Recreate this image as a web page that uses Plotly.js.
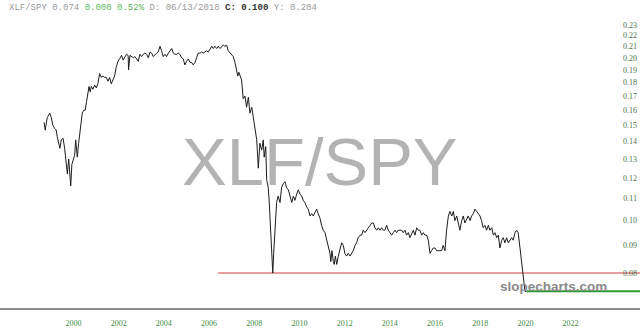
<!DOCTYPE html>
<html><head><meta charset="utf-8">
<script src="https://cdn.plot.ly/plotly-3.0.1.min.js"></script>
<style>html,body{margin:0;padding:0;background:#fff;}#chart{width:640px;height:332px;}</style>
</head><body><div id="chart"></div>
<script>
// Decimal-year dates and XLF/SPY ratio values
const dates = [1998.70,1998.75,1998.84,1998.95,1999.02,1999.09,1999.17,1999.24,1999.28,1999.35,1999.40,1999.46,1999.54,1999.61,1999.67,1999.73,1999.79,1999.83,1999.88,1999.93,1999.99,
2000.05,2000.10,2000.17,2000.23,2000.29,2000.35,2000.39,2000.46,2000.52,2000.58,2000.64,2000.69,2000.74,2000.79,2000.86,2000.94,
2001.01,2001.08,2001.16,2001.23,2001.31,2001.38,2001.45,2001.53,2001.60,2001.67,2001.75,2001.82,2001.89,2001.97,
2002.04,2002.13,2002.20,2002.28,2002.35,2002.42,2002.44,2002.50,2002.58,2002.65,2002.72,2002.80,2002.87,2002.94,
2003.02,2003.09,2003.16,2003.24,2003.31,2003.39,2003.46,2003.53,2003.61,2003.68,2003.75,2003.83,2003.90,2003.97,
2004.05,2004.12,2004.20,2004.27,2004.35,2004.42,2004.49,2004.57,2004.64,2004.71,2004.79,2004.86,2004.93,
2005.01,2005.08,2005.16,2005.23,2005.30,2005.38,2005.45,2005.52,2005.60,2005.67,2005.74,2005.82,2005.89,2005.97,
2006.04,2006.12,2006.19,2006.26,2006.34,2006.41,2006.48,2006.56,2006.63,2006.70,2006.78,2006.85,2006.93,
2007.07,2007.15,2007.22,2007.27,2007.32,2007.37,2007.44,2007.51,2007.59,2007.66,2007.74,2007.81,2007.89,2007.96,
2008.03,2008.11,2008.18,2008.25,2008.33,2008.40,2008.44,2008.51,2008.55,2008.62,2008.66,2008.70,2008.73,2008.75,2008.78,2008.82,2008.86,2008.90,2008.95,2008.99,
2009.06,2009.14,2009.21,2009.28,2009.36,2009.43,2009.51,2009.58,2009.66,2009.73,2009.80,2009.88,2009.95,
2010.02,2010.10,2010.17,2010.24,2010.32,2010.39,2010.47,2010.54,2010.61,2010.69,2010.76,2010.83,2010.91,2010.98,
2011.05,2011.13,2011.20,2011.28,2011.35,2011.39,2011.44,2011.50,2011.54,2011.59,2011.65,2011.72,2011.79,2011.87,2011.94,
2012.01,2012.09,2012.16,2012.24,2012.31,2012.38,2012.46,2012.53,2012.60,2012.68,2012.75,2012.82,2012.90,2012.97,
2013.05,2013.12,2013.20,2013.27,2013.34,2013.42,2013.49,2013.56,2013.64,2013.71,2013.78,2013.86,2013.93,
2014.01,2014.08,2014.15,2014.23,2014.30,2014.37,2014.45,2014.52,2014.59,2014.67,2014.74,2014.82,2014.89,2014.97,
2015.04,2015.11,2015.19,2015.26,2015.33,2015.41,2015.48,2015.55,2015.63,2015.70,2015.78,2015.85,2015.92,
2016.00,2016.07,2016.14,2016.22,2016.29,2016.36,2016.44,2016.51,2016.59,2016.66,2016.74,2016.81,2016.88,2016.96,
2017.03,2017.10,2017.18,2017.25,2017.32,2017.40,2017.47,2017.55,2017.62,2017.69,2017.77,2017.84,2017.91,2017.99,
2018.06,2018.13,2018.21,2018.28,2018.36,2018.43,2018.51,2018.58,2018.65,2018.73,2018.80,2018.87,2018.95,
2019.02,2019.09,2019.17,2019.24,2019.32,2019.39,2019.46,2019.54,2019.61,2019.68,2019.76,2019.83,2019.90,2019.98,2020.05];
const ratio = [0.152,0.147,0.155,0.158,0.155,0.150,0.148,0.147,0.143,0.138,0.136,0.141,0.142,0.136,0.130,0.122,0.130,0.121,0.116,0.127,0.130,
0.132,0.141,0.131,0.139,0.147,0.153,0.158,0.160,0.160,0.166,0.172,0.177,0.173,0.177,0.175,0.178,
0.176,0.179,0.187,0.184,0.185,0.184,0.184,0.181,0.184,0.179,0.182,0.185,0.192,0.197,
0.199,0.202,0.198,0.201,0.203,0.202,0.190,0.202,0.201,0.200,0.201,0.199,0.197,0.203,
0.201,0.203,0.204,0.203,0.200,0.205,0.204,0.201,0.203,0.204,0.205,0.210,0.206,0.201,
0.203,0.201,0.204,0.206,0.208,0.204,0.203,0.203,0.204,0.203,0.200,0.199,0.194,
0.197,0.199,0.196,0.196,0.194,0.196,0.200,0.204,0.204,0.205,0.204,0.205,0.206,0.205,
0.208,0.210,0.208,0.210,0.208,0.210,0.208,0.210,0.211,0.210,0.211,0.206,0.204,
0.201,0.196,0.189,0.185,0.188,0.186,0.182,0.168,0.170,0.162,0.169,0.158,0.162,0.155,
0.147,0.141,0.125,0.139,0.135,0.141,0.131,0.137,0.119,0.115,0.109,0.100,0.092,0.087,0.083,0.080,0.087,0.093,0.103,0.108,
0.111,0.108,0.115,0.117,0.118,0.115,0.114,0.111,0.108,0.111,0.109,0.112,0.114,
0.112,0.111,0.109,0.108,0.106,0.105,0.102,0.103,0.102,0.104,0.105,0.103,0.101,0.098,
0.096,0.095,0.092,0.090,0.087,0.084,0.088,0.084,0.083,0.086,0.083,0.086,0.088,0.091,0.090,
0.087,0.086,0.087,0.086,0.087,0.088,0.090,0.091,0.093,0.094,0.094,0.096,0.095,0.096,
0.097,0.098,0.099,0.099,0.097,0.096,0.097,0.096,0.097,0.096,0.096,0.098,0.096,
0.095,0.094,0.095,0.096,0.095,0.096,0.096,0.096,0.095,0.096,0.094,0.095,0.093,0.095,
0.096,0.094,0.097,0.096,0.096,0.094,0.095,0.094,0.094,0.092,0.087,0.088,0.089,
0.089,0.088,0.088,0.088,0.088,0.090,0.088,0.096,0.102,0.104,0.102,0.104,0.100,0.102,
0.099,0.096,0.100,0.102,0.099,0.101,0.102,0.100,0.102,0.103,0.105,0.104,0.103,0.102,
0.100,0.097,0.098,0.096,0.098,0.096,0.097,0.094,0.095,0.093,0.094,0.089,0.092,
0.093,0.091,0.093,0.091,0.092,0.093,0.092,0.095,0.096,0.095,0.089,0.084,0.078,0.074,0.074];

// Horizontal support levels and where they begin
const supportLevels = [0.080, 0.074];
const supportStarts = [2006.4, 2020.05];

const yTickVals = [0.08,0.09,0.10,0.11,0.12,0.13,0.14,0.15,0.16,0.17,0.18,0.19,0.20,0.21,0.22,0.23];
const yTickText = ['0.08','0.09','0.10','0.11','0.12','0.13','0.14','0.15','0.16','0.17','0.18','0.19','0.20','0.21','0.22','0.23'];
const xTickVals = [2000,2002,2004,2006,2008,2010,2012,2014,2016,2018,2020,2022];
const xTickText = ['2000','2002','2004','2006','2008','2010','2012','2014','2016','2018','2020','2022'];

const symbol = 'XLF/SPY';
const lastPrice = '0.074';
const changeAbs = '0.000';
const changePct = '0.52%';
const cursorDate = '06/13/2018';
const cursorClose = '0.100';
const cursorY = '0.204';

const xRange = [1996.75, 2025.07];
const supportColors = ['#e27c7c', '#2f9a2f'];

const traces = [];
supportLevels.forEach((lvl, i) => {
  traces.push({x:[supportStarts[i], xRange[1] + 1], y:[lvl, lvl], type:'scatter', mode:'lines',
    line:{color:supportColors[i], width: i === 0 ? 1.5 : 2}, hoverinfo:'skip'});
});
traces.push({x:dates, y:ratio, type:'scatter', mode:'lines', line:{color:'#1c1c1c', width:1}, hoverinfo:'skip'});

const headerText =
  '<span style="color:#9a9a9a">' + symbol + ' ' + lastPrice + '</span> ' +
  '<span style="color:#5cb85c">' + changeAbs + ' ' + changePct + '</span> ' +
  '<span style="color:#9a9a9a">D: ' + cursorDate + '</span> ' +
  '<b><span style="color:#333">C: ' + cursorClose + '</span></b> ' +
  '<span style="color:#9a9a9a">Y: ' + cursorY + '</span>';

const layout = {
  width:640, height:332,
  margin:{l:0, r:0, t:18, b:24, pad:0},
  paper_bgcolor:'#ffffff', plot_bgcolor:'#ffffff',
  showlegend:false,
  xaxis:{range:xRange, showgrid:false, zeroline:false, showline:true, linecolor:'#8c8c8c', linewidth:2,
    tickmode:'array', tickvals:xTickVals, ticktext:xTickText,
    tickfont:{family:'Liberation Serif', size:8, color:'#3f8a3f'},
    ticks:'outside', ticklen:6, tickcolor:'rgba(0,0,0,0)', fixedrange:true},
  yaxis:{type:'log', range:[-1.1615, -0.6255], side:'right', ticklabelposition:'inside',
    showgrid:false, zeroline:false, showline:false,
    tickmode:'array', tickvals:yTickVals, ticktext:yTickText,
    tickfont:{family:'Liberation Serif', size:8, color:'#4d724d'}, ticks:'', fixedrange:true},
  annotations:[
    {text:headerText, xref:'paper', yref:'paper', x:7/640, y:1 + 10/290, xanchor:'left', yanchor:'middle',
     showarrow:false, font:{family:'Liberation Mono', size:9, color:'#9a9a9a'}},
    {text:symbol, xref:'paper', yref:'paper', x:0.5, y:(308-161)/290, xanchor:'center', yanchor:'middle',
     showarrow:false, font:{family:'Liberation Sans', size:67, color:'rgba(110,110,110,0.52)'}},
    {text:'<b>slopecharts.com</b>', xref:'paper', yref:'paper', x:553.5/640, y:(308-286)/290, xanchor:'center', yanchor:'middle',
     showarrow:false, font:{family:'Liberation Sans', size:13.5, color:'#8a8a8a'}}
  ]
};

Plotly.newPlot('chart', traces, layout, {staticPlot:true, displayModeBar:false});
</script>
</body></html>
